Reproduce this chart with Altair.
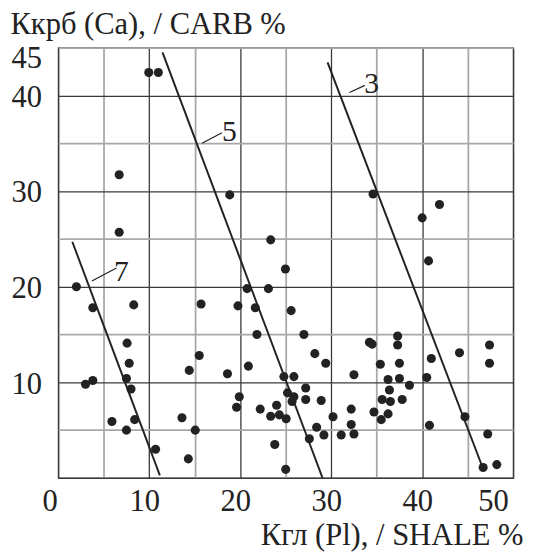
import altair as alt
import pandas as pd

# Scatter points: Кгл (Pl) / SHALE %  vs  Ккрб (Ca) / CARB %
shale = [9.95, 11.0, 6.7, 18.85, 34.6, 41.9, 40.0, 40.7, 6.7, 2.0,
         3.8, 8.3, 15.7, 23.35, 24.97, 20.76, 23.1, 19.75, 21.66, 25.6,
         21.84, 27.0, 37.3, 34.2, 34.5, 37.3, 47.4, 44.1, 41.0, 35.4,
         37.5, 47.4, 32.5, 36.25, 37.5, 40.5, 38.6, 36.4, 35.6, 36.5,
         37.8, 32.2, 34.7, 36.25, 35.5, 44.7, 32.2, 32.5, 40.8, 47.2,
         46.7, 48.2, 15.5, 18.6, 20.9, 28.2, 29.4, 24.8, 25.9, 27.2,
         19.9, 25.2, 25.9, 25.7, 27.2, 28.9, 19.6, 22.2, 24.0, 23.35,
         24.3, 25.05, 30.2, 28.4, 29.2, 31.1, 27.6, 23.8, 25.0, 7.57,
         7.8, 3.0, 3.8, 7.5, 8.0, 14.4, 5.9, 8.4, 7.5, 13.6,
         15.06, 10.7, 14.3]
carb = [42.4, 42.4, 31.7, 29.6, 29.7, 28.6, 27.2, 22.7, 25.7, 20.0,
        17.8, 18.1, 18.2, 24.9, 21.85, 19.8, 19.8, 18.0, 17.8, 17.5,
        15.0, 15.0, 14.85, 14.2, 14.0, 13.9, 13.9, 13.1, 12.5, 11.9,
        12.0, 12.0, 10.8, 10.3, 10.4, 10.5, 9.7, 9.2, 8.2, 8.0,
        8.2, 7.2, 6.9, 6.7, 6.1, 6.4, 5.6, 4.6, 5.5, 4.6,
        1.1, 1.4, 12.8, 10.9, 11.7, 13.0, 12.0, 10.6, 10.6, 9.4,
        8.5, 8.9, 8.5, 8.0, 8.2, 8.1, 7.4, 7.2, 7.6, 6.45,
        6.6, 6.2, 6.4, 5.3, 4.5, 4.5, 4.1, 3.5, 0.9, 14.1,
        12.0, 9.8, 10.2, 10.4, 9.3, 11.25, 5.9, 6.1, 5.0, 6.3,
        5.0, 3.0, 2.0]

# Boundary lines 7, 5, 3 (start / end points)
line_names = ["7", "5", "3"]
line_x1 = [1.55, 11.46, 29.6]
line_y1 = [24.7, 44.5, 43.45]
line_x2 = [11.17, 29.05, 46.6]
line_y2 = [0.28, 0.0, 1.2]

# Line labels and their leader lines
label_x = [6.95, 18.8, 34.45]
label_y = [21.5, 36.2, 41.15]
leader_x1 = [3.7, 15.8, 32.0]
leader_y1 = [20.6, 35.0, 40.3]
leader_x2 = [6.4, 18.0, 33.7]
leader_y2 = [21.95, 36.1, 41.05]

x_grid = [i * 2.5 for i in range(21)]
y_grid = [i * 2.5 for i in range(19)]

FONT = "Liberation Serif"
INK = "#222222"

pts = pd.DataFrame({"x": shale, "y": carb})
lines = pd.DataFrame({"name": line_names, "x": line_x1, "y": line_y1,
                      "x2": line_x2, "y2": line_y2})
labels = pd.DataFrame({"name": line_names, "x": label_x, "y": label_y,
                       "lx": leader_x1, "ly": leader_y1,
                       "lx2": leader_x2, "ly2": leader_y2})

major_color = {"condition": {"test": "datum.value % 10 === 0", "value": "#3a3a3a"},
               "value": "#a8a8a8"}
major_width = {"condition": {"test": "datum.value % 10 === 0", "value": 1.3},
               "value": 1.8}

x_scale = alt.Scale(domain=[0, 50], nice=False, zero=False)
y_scale = alt.Scale(domain=[0, 45], nice=False, zero=False)

x_axis = alt.Axis(
    values=x_grid,
    labelExpr="datum.value % 10 === 0 ? datum.label : ''",
    grid=True, gridColor=major_color, gridWidth=major_width,
    ticks=False, domain=False,
    labelFont=FONT, labelFontSize=31, labelColor=INK, labelPadding=33,
    labelOffset={"condition": {"test": "datum.value === 0", "value": -16.5}, "value": -5},
    labelBaseline="alphabetic",
    title="Кгл (Pl), / SHALE %", titleFont=FONT, titleFontSize=31,
    titleFontWeight="normal", titleColor=INK,
    titleAnchor="end", titleAlign="right", titleBaseline="alphabetic",
    titleX=472, titleY=68,
)
y_axis = alt.Axis(
    values=y_grid,
    labelExpr="(datum.value % 10 === 0 && datum.value > 0) || datum.value === 45 ? datum.label : ''",
    grid=True, gridColor=major_color, gridWidth=major_width,
    ticks=False, domain=False,
    labelFont=FONT, labelFontSize=31, labelColor=INK, labelPadding=17,
    labelBaseline="alphabetic",
    labelOffset={"condition": {"test": "datum.value === 45", "value": 20}, "value": 11},
    title="Ккрб (Ca), / CARB %", titleFont=FONT, titleFontSize=31,
    titleFontWeight="normal", titleColor=INK, titleAngle=0,
    titleAlign="left", titleBaseline="alphabetic", titleX=-49, titleY=-14.5,
)

points = alt.Chart(pts).mark_circle(size=85, opacity=1, color=INK).encode(
    x=alt.X("x:Q", scale=x_scale, axis=x_axis),
    y=alt.Y("y:Q", scale=y_scale, axis=y_axis),
)

bound_lines = alt.Chart(lines).mark_rule(color=INK, strokeWidth=2).encode(
    x="x:Q", y="y:Q", x2="x2:Q", y2="y2:Q"
)

leaders = alt.Chart(labels).mark_rule(color=INK, strokeWidth=1.2).encode(
    x="lx:Q", y="ly:Q", x2="lx2:Q", y2="ly2:Q"
)

texts = alt.Chart(labels).mark_text(
    font=FONT, fontSize=30, color=INK, align="center", baseline="middle"
).encode(x="x:Q", y="y:Q", text="name:N")

chart = alt.layer(points, bound_lines, leaders, texts).properties(
    width=462, height=437,
    autosize=alt.AutoSizeParams(type="none"),
    padding={"left": 51, "top": 36, "right": 12, "bottom": 76},
    background="white",
).configure_view(stroke="#3a3a3a", strokeWidth=1.3)

chart.save("out.html", embed_options={"renderer": "svg", "actions": False})
